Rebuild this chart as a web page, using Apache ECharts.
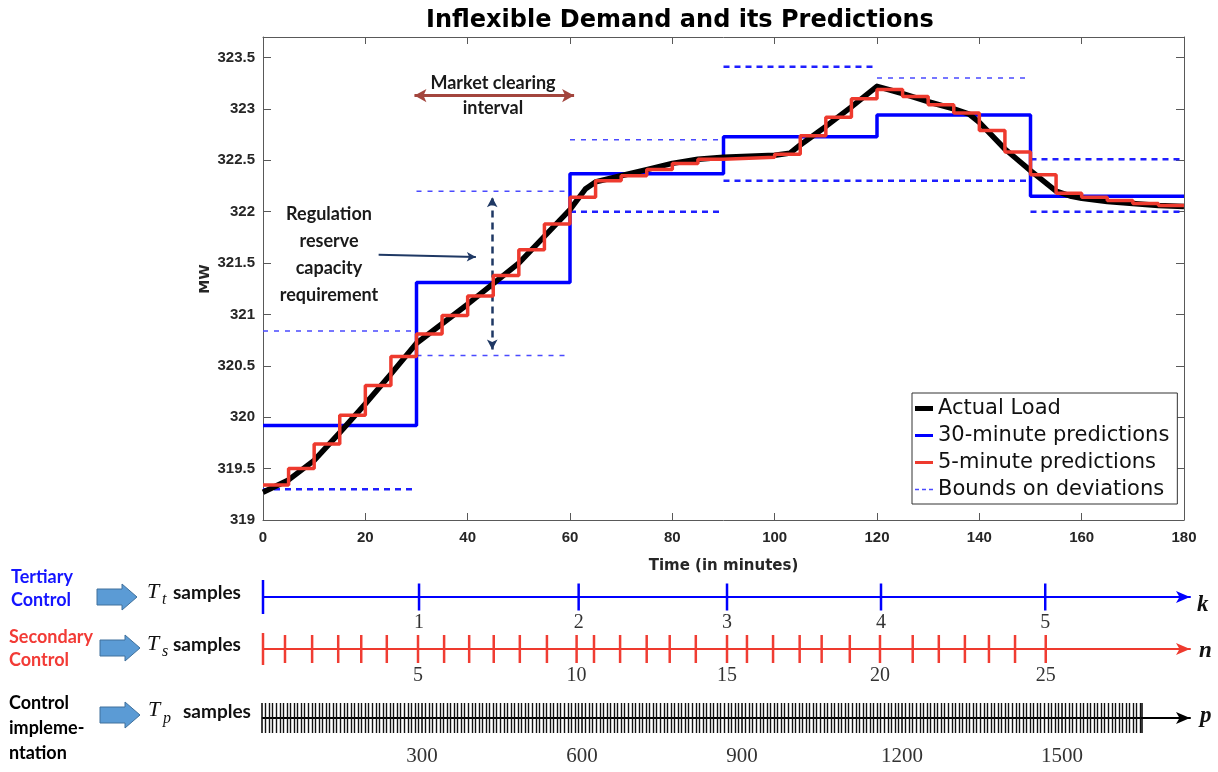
<!DOCTYPE html>
<html>
<head>
<meta charset="utf-8">
<title>Inflexible Demand and its Predictions</title>
<script src="https://cdn.jsdelivr.net/npm/echarts@6/dist/echarts.min.js"></script>
<style>
  html, body { margin: 0; padding: 0; background: #ffffff; }
  #chart { width: 1218px; height: 772px; }
</style>
</head>
<body>
<div id="chart"></div>
<script>
// ---- Demand data (MW) over a 3-hour window, time in minutes ----
const loadMinutes = [0, 5, 10, 15, 20, 25, 30, 35, 40, 45, 50, 55, 60, 63, 65, 70, 75, 80, 85, 90, 95, 100,
  103, 105, 110, 115, 120, 125, 130, 135, 138, 140, 145, 150, 155, 158, 160, 165, 170, 175, 180];
const actualLoad = [319.27, 319.39, 319.58, 319.85, 320.13, 320.42, 320.72, 320.91, 321.10, 321.30, 321.50,
  321.76, 322.02, 322.22, 322.29, 322.35, 322.41, 322.47, 322.51, 322.53, 322.54, 322.55,
  322.57, 322.65, 322.83, 323.02, 323.22, 323.15, 323.07, 323.00, 322.95, 322.87, 322.61, 322.40,
  322.20, 322.15, 322.13, 322.10, 322.08, 322.06, 322.05];

// 30-minute ahead predictions (held over each interval)
const minutes30 = [0, 30, 60, 90, 120, 150];
const pred30 = [319.92, 321.31, 322.37, 322.73, 322.94, 322.15];

// 5-minute ahead predictions (held over each interval)
const minutes5 = [0, 5, 10, 15, 20, 25, 30, 35, 40, 45, 50, 55, 60, 65, 70, 75, 80, 85,
  90, 95, 100, 105, 110, 115, 120, 125, 130, 135, 140, 145, 150, 155, 160, 165, 170, 175];
const pred5 = [319.34, 319.50, 319.74, 320.02, 320.31, 320.59, 320.81, 320.99, 321.18, 321.38, 321.63, 321.88,
  322.14, 322.30, 322.35, 322.41, 322.47, 322.51, 322.52, 322.53, 322.56, 322.74, 322.92, 323.10,
  323.19, 323.12, 323.04, 322.96, 322.79, 322.58, 322.36, 322.18, 322.14, 322.11, 322.08, 322.06];
const horizonEnd = 180;

// Bounds on deviations for each 30-minute market interval
const boundStart = [0, 30, 60, 90, 120, 150];
const boundEnd = [30, 60, 90, 120, 150, 180];
const upperBound = [320.84, 322.20, 322.70, 323.41, 323.30, 322.51];
const lowerBound = [319.30, 320.60, 322.00, 322.30, 322.30, 322.00];

// Axis ticks
const timeTicks = [0, 20, 40, 60, 80, 100, 120, 140, 160, 180];
const mwTicks = [319, 319.5, 320, 320.5, 321, 321.5, 322, 322.5, 323, 323.5];

// Sampling instants of the three control layers (minutes on the same time line)
const tertiarySamples = [0, 30.5, 61.7, 90.7, 120.8, 152.9];
const tertiaryLabels = ['', '1', '2', '3', '4', '5'];
const secondarySamples = [0, 4.3, 9.6, 14.7, 19.2, 24.2, 30.3, 35.4, 40.3, 45.1, 50.2, 55.5, 61.3, 64.7,
  69.8, 75.0, 79.5, 84.6, 90.7, 94.6, 99.7, 104.9, 109.2, 114.7, 120.6, 127.0, 132.1, 137.2, 141.9, 147.0, 153.0];
const secondaryLabels = ['', '', '', '', '', '', '5', '', '', '', '', '', '10', '', '', '', '', '',
  '15', '', '', '', '', '', '20', '', '', '', '', '', '25'];
const primaryRange = [0, 1650];      // p sample index range
const primaryLabelStep = 300;        // labelled every 300 samples
const primaryTicksPerLabel = 45;     // drawn sample marks between labels

// ---------------------------------------------------------------
const SANS = '"Liberation Sans", Arial, sans-serif';
const WIDE = '"DejaVu Sans", sans-serif';
const CAL = 'Lato, "Open Sans", sans-serif';
const SERIF = '"Liberation Serif", "DejaVu Serif", serif';
const BLUE = '#0000ff';
const RED = '#ee3a2e';
const AXIS = '#595959';

const chart = echarts.init(document.getElementById('chart'));

// thin / thick dash styling of the individual bound segments
const thinUpper = new Set([0, 1, 2, 4]);
const thinLower = new Set([1]);
const thinDash = { color: '#4a4aff', width: 1.5, type: [5, 6] };
const thickDash = { color: '#1f1fff', width: 2.5, type: [6, 5] };

const boundSeries = [];
boundStart.forEach((t0, i) => {
  [[upperBound[i], thinUpper.has(i)], [lowerBound[i], thinLower.has(i)]].forEach(([v, thin]) => {
    boundSeries.push({
      name: 'Bounds on deviations',
      type: 'line',
      xAxisIndex: 0, yAxisIndex: 0,
      data: [[t0, v], [boundEnd[i], v]],
      symbol: 'none',
      itemStyle: { color: thin ? thinDash.color : thickDash.color },
      lineStyle: thin ? thinDash : thickDash,
      z: 2,
      silent: true
    });
  });
});

// annotation arrows drawn in data space on the first bound segment
boundSeries[0].markLine = {
  silent: true,
  animation: false,
  label: { show: false },
  emphasis: { disabled: true },
  data: [
    // market clearing interval (30 .. 60 min)
    [
      { coord: [29.6, 323.13], symbol: 'arrow', symbolSize: [10, 12],
        lineStyle: { color: '#a3453d', width: 3, type: 'solid' }, itemStyle: { color: '#a3453d' } },
      { coord: [60.8, 323.13], symbol: 'arrow', symbolSize: [10, 12] }
    ],
    // regulation reserve requirement between the bounds of the 30..60 interval
    [
      { coord: [44.8, 320.66], symbol: 'arrow', symbolSize: [8, 10],
        lineStyle: { color: '#1f3864', width: 2.5, type: [7, 5] }, itemStyle: { color: '#1f3864' } },
      { coord: [44.8, 322.14], symbol: 'arrow', symbolSize: [8, 10] }
    ],
    // pointer from the text to the requirement
    [
      { coord: [22.6, 321.58], symbol: 'none',
        lineStyle: { color: '#1f3864', width: 2, type: 'solid' }, itemStyle: { color: '#1f3864' } },
      { coord: [41.6, 321.56], symbol: 'arrow', symbolSize: [7, 9] }
    ]
  ]
};

const toPairs = (xs, ys) => xs.map((x, i) => [x, ys[i]]);
const held = (xs, ys) => toPairs(xs, ys).concat([[horizonEnd, ys[ys.length - 1]]]);

const mainSeries = [
  {
    name: '30-minute predictions', type: 'line', step: 'end',
    data: held(minutes30, pred30), symbol: 'none',
    itemStyle: { color: BLUE }, lineStyle: { color: BLUE, width: 3.5 }, z: 3, silent: true
  },
  {
    name: 'Actual Load', type: 'line',
    data: toPairs(loadMinutes, actualLoad), symbol: 'none',
    itemStyle: { color: '#000' }, lineStyle: { color: '#000', width: 5.5, join: 'round' }, z: 4, silent: true
  },
  {
    name: '5-minute predictions', type: 'line', step: 'end',
    data: held(minutes5, pred5), symbol: 'none',
    itemStyle: { color: RED }, lineStyle: { color: RED, width: 3.5 }, z: 5, silent: true
  }
];

// tick marks on the control time lines
const sampleSeries = (grid, xs, labels, color, firstH, h, labelDist) => ({
  type: 'scatter', xAxisIndex: grid, yAxisIndex: grid,
  data: xs.map(x => [x, 0]),
  symbol: 'rect',
  symbolSize: (v, p) => p.dataIndex === 0 ? [2.5, firstH] : [2.5, h],
  itemStyle: { color: color, opacity: 1 },
  label: {
    show: true, position: 'bottom', distance: labelDist,
    formatter: p => labels[p.dataIndex],
    fontFamily: SERIF, fontSize: 20, color: '#333'
  },
  silent: true, z: 3
});

const timeLineAxis = (grid, color) => ({
  gridIndex: grid, type: 'value', min: 0, max: 181.2,
  axisLine: { show: true, onZero: true, symbol: ['none', 'arrow'], symbolSize: [9, 14],
    lineStyle: { color: color, width: 2 } },
  axisTick: { show: false }, axisLabel: { show: false }, splitLine: { show: false }
});
const hiddenY = grid => ({ gridIndex: grid, type: 'value', min: -1, max: 1, show: false });

const txt = (x, y, text, font, fill, align) => ({
  type: 'text', x: x, y: y, silent: true,
  style: { text: text, font: font, fill: fill,
    textAlign: align || 'left', align: align || 'left',
    textVerticalAlign: 'middle', verticalAlign: 'middle', lineHeight: 27 }
});
const blockArrow = (x0, cy) => ({
  type: 'polygon', silent: true,
  shape: { points: [[x0, cy - 8], [x0 + 25, cy - 8], [x0 + 25, cy - 13], [x0 + 40, cy],
    [x0 + 25, cy + 13], [x0 + 25, cy + 8], [x0, cy + 8]] },
  style: { fill: '#5b9bd5', stroke: '#41719c', lineWidth: 1 }
});

// y axis title, rotated
const mwTitle = txt(205, 279, 'MW', 'bold 14px ' + WIDE, '#262626', 'center');
mwTitle.rotation = Math.PI / 2;

const option = {
  animation: false,
  backgroundColor: '#ffffff',
  title: {
    text: 'Inflexible Demand and its Predictions',
    left: 421, top: 4,
    textStyle: { fontFamily: WIDE, fontWeight: 'bold', fontSize: 24, color: '#000' }
  },
  legend: {
    data: [
      { name: 'Actual Load', icon: 'path://M0,0h18v5h-18z' },
      { name: '30-minute predictions', icon: 'path://M0,0h18v3h-18z' },
      { name: '5-minute predictions', icon: 'path://M0,0h18v3h-18z' },
      { name: 'Bounds on deviations', icon: 'path://M0,0h4v1.5h-4z M7,0h4v1.5h-4z M14,0h4v1.5h-4z' }
    ],
    orient: 'vertical', left: 912, top: 393,
    itemWidth: 18, itemHeight: 5, itemGap: 6,
    symbolKeepAspect: true,
    padding: [5, 8, 4, 3],
    backgroundColor: '#ffffff', borderColor: '#333', borderWidth: 1,
    selectedMode: false,
    textStyle: { fontFamily: WIDE, fontSize: 21, color: '#111' }
  },
  grid: [
    { left: 263, right: 34, top: 37, bottom: 252 },
    { left: 263, width: 927, top: 580, height: 34 },
    { left: 263, width: 927, top: 632, height: 34 },
    { left: 263, width: 927, top: 701, height: 34 },
    { left: 262, right: 76, top: 703, height: 30 }
  ],
  xAxis: [
    {
      gridIndex: 0, type: 'value', min: timeTicks[0], max: timeTicks[timeTicks.length - 1],
      interval: timeTicks[1] - timeTicks[0], position: 'bottom',
      name: 'Time (in minutes)', nameLocation: 'middle', nameGap: 39,
      nameTextStyle: { fontFamily: WIDE, fontWeight: 'bold', fontSize: 15, color: '#262626' },
      axisLine: { show: true, onZero: false, lineStyle: { color: AXIS, width: 1 } },
      axisTick: { show: true, inside: true, length: 7, lineStyle: { color: AXIS } },
      axisLabel: { fontFamily: SANS, fontWeight: 'bold', fontSize: 15, color: '#262626', margin: 10 },
      splitLine: { show: false }
    },
    {
      gridIndex: 0, type: 'value', min: timeTicks[0], max: timeTicks[timeTicks.length - 1],
      interval: timeTicks[1] - timeTicks[0], position: 'top',
      axisLine: { show: true, onZero: false, lineStyle: { color: AXIS, width: 1 } },
      axisTick: { show: true, inside: true, length: 7, lineStyle: { color: AXIS } },
      axisLabel: { show: false }, splitLine: { show: false }
    },
    timeLineAxis(1, BLUE),
    timeLineAxis(2, RED),
    timeLineAxis(3, '#000'),
    {
      gridIndex: 4, type: 'value', min: primaryRange[0], max: primaryRange[1],
      interval: primaryLabelStep, position: 'bottom',
      axisLine: { show: false, onZero: false },
      axisTick: { show: true, inside: true, length: 30, lineStyle: { color: '#000', width: 1.5 } },
      minorTick: { show: true, splitNumber: primaryTicksPerLabel, length: 30,
        lineStyle: { color: '#111', width: 1.4 } },
      axisLabel: { show: true, showMinLabel: false, showMaxLabel: false, margin: 13,
        formatter: v => String(v),
        fontFamily: SERIF, fontSize: 21, color: '#333' },
      splitLine: { show: false }
    }
  ],
  yAxis: [
    {
      gridIndex: 0, type: 'value', min: mwTicks[0], max: 323.7,
      interval: mwTicks[1] - mwTicks[0],
      axisLine: { show: true, onZero: false, lineStyle: { color: AXIS, width: 1 } },
      axisTick: { show: true, inside: true, length: 8, lineStyle: { color: AXIS } },
      axisLabel: { showMaxLabel: false, fontFamily: SANS, fontWeight: 'bold', fontSize: 15,
        color: '#262626', margin: 8 },
      splitLine: { show: false }
    },
    {
      gridIndex: 0, type: 'value', min: mwTicks[0], max: 323.7,
      interval: mwTicks[1] - mwTicks[0], position: 'right',
      axisLine: { show: true, onZero: false, lineStyle: { color: AXIS, width: 1 } },
      axisTick: { show: true, inside: true, length: 8, lineStyle: { color: AXIS } },
      axisLabel: { show: false }, splitLine: { show: false }
    },
    hiddenY(1), hiddenY(2), hiddenY(3), hiddenY(4)
  ],
  series: boundSeries.concat(mainSeries).concat([
    sampleSeries(2, tertiarySamples, tertiaryLabels, BLUE, 34, 27, 2),
    sampleSeries(3, secondarySamples, secondaryLabels, '#f03c32', 32, 28, 3)
  ]),
  graphic: [
    mwTitle,
    // chart annotations
    txt(493, 83, 'Market clearing', 'bold 18px ' + CAL, '#1a1a1a', 'center'),
    txt(493, 108, 'interval', 'bold 18px ' + CAL, '#1a1a1a', 'center'),
    txt(329, 255, 'Regulation\nreserve\ncapacity\nrequirement', 'bold 18px ' + CAL, '#1a1a1a', 'center'),

    // control layers
    txt(11, 577, 'Tertiary', 'bold 18px ' + CAL, '#1414ff'),
    txt(11, 600, 'Control', 'bold 18px ' + CAL, '#1414ff'),
    txt(9, 637, 'Secondary', 'bold 18px ' + CAL, '#f23b36'),
    txt(9, 660, 'Control', 'bold 18px ' + CAL, '#f23b36'),
    txt(9, 703, 'Control', 'bold 18px ' + CAL, '#000'),
    txt(9, 728, 'impleme-', 'bold 18px ' + CAL, '#000'),
    txt(9, 753, 'ntation', 'bold 18px ' + CAL, '#000'),

    blockArrow(97, 597),
    blockArrow(100, 648),
    blockArrow(100, 715),

    txt(147, 592, 'T', 'italic 22px ' + SERIF, '#111'),
    txt(162, 600, 't', 'italic 16px ' + SERIF, '#111'),
    txt(173, 593, 'samples', 'bold 19px ' + CAL, '#111'),
    txt(147, 644, 'T', 'italic 22px ' + SERIF, '#111'),
    txt(162, 652, 's', 'italic 16px ' + SERIF, '#111'),
    txt(173, 645, 'samples', 'bold 19px ' + CAL, '#111'),
    txt(148, 710, 'T', 'italic 22px ' + SERIF, '#111'),
    txt(163, 719, 'p', 'italic 16px ' + SERIF, '#111'),
    txt(183, 712, 'samples', 'bold 19px ' + CAL, '#111'),

    txt(1197, 605, 'k', 'bold italic 23px ' + SERIF, '#111'),
    txt(1199, 651, 'n', 'bold italic 23px ' + SERIF, '#111'),
    txt(1200, 716, 'p', 'bold italic 23px ' + SERIF, '#111')
  ]
};

chart.setOption(option);
</script>
</body>
</html>
